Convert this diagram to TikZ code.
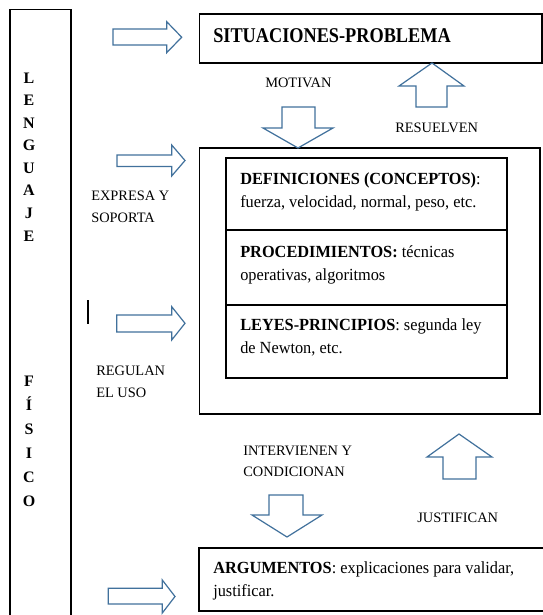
\documentclass[tikz,border=0pt]{standalone}
\usepackage{fontspec}
\setmainfont{Liberation Serif}
\newfontfamily\boxfont[FakeStretch=0.96]{Liberation Serif}
\newfontfamily\sitfont[FakeStretch=0.87]{Liberation Serif}
\definecolor{arrowblue}{HTML}{41719C}
\newcommand\twoln[3]{\vtop{\baselineskip=#1\relax\hbox{#2}\hbox{#3}}}
\newcommand\vletters[2]{\vtop{\baselineskip=#1\relax\halign{\hfil##\hfil\cr#2\crcr}}}
\tikzset{
  frame/.style={draw=black, line width=1.1pt},
  barrow/.style={draw=arrowblue, line width=0.9pt, fill=white, line join=miter},
  txt/.style={inner sep=0pt, anchor=base west, font=\boxfont\fontsize{12.75}{17.5}\selectfont},
  lbl/.style={inner sep=0pt, anchor=base west, font=\fontsize{10.8}{16.5}\selectfont},
  vert/.style={inner sep=0pt, anchor=base, font=\bfseries\fontsize{12}{16.9}\selectfont},
}
\begin{document}
\begin{tikzpicture}[x=0.75pt,y=-0.75pt]
\useasboundingbox[fill=white] (0,0) rectangle (543,615);
% left column
\draw[frame] (10,615) -- (10,9.5) -- (71,9.5) -- (71,615);
\node[vert] (leng) at (29,83.3) {\vletters{16.9pt}{L\cr E\cr N\cr G\cr U\cr A\cr J\cr E}};
\node[vert] (fis) at (29,386) {\vletters{18pt}{F\cr Í\cr S\cr I\cr C\cr O}};
\draw[line width=0.8pt] (88,300) -- (88,324);
% boxes
\draw[frame] (199.5,14) rectangle (542,63);
\draw[frame] (199.5,148) rectangle (540,414);
\draw[frame] (226,158) rectangle (507,230);
\draw[frame] (226,230) rectangle (507,305);
\draw[frame] (226,305) rectangle (507,378);
\draw[frame] (545,548) -- (199,548) -- (199,611) -- (545,611);
% box texts
\node[inner sep=0pt, anchor=base west, font=\sitfont\bfseries\fontsize{15.75}{19}\selectfont] (sit) at (213,42.3) {SITUACIONES-PROBLEMA};
\node[txt] (def) at (240,184) {\twoln{17.3pt}{\textbf{DEFINICIONES (CONCEPTOS)}:}{fuerza, velocidad, normal, peso, etc.}};
\node[txt] (proc) at (240,257) {\twoln{17.3pt}{\textbf{PROCEDIMIENTOS:} técnicas}{operativas, algoritmos}};
\node[txt] (ley) at (240,330) {\twoln{17.6pt}{\textbf{LEYES-PRINCIPIOS}: segunda ley}{de Newton, etc.}};
\node[txt] (arg) at (213,573) {\twoln{17.8pt}{\textbf{ARGUMENTOS}: explicaciones para validar,}{justificar.}};
% labels
\node[lbl] (mot) at (265,87) {MOTIVAN};
\node[lbl] (res) at (395,132) {RESUELVEN};
\node[lbl] (exp) at (91,200) {\twoln{16.5pt}{EXPRESA Y}{SOPORTA}};
\node[lbl] (reg) at (96,375) {\twoln{16.5pt}{REGULAN}{EL USO}};
\node[lbl] (int) at (243,455) {\twoln{16pt}{INTERVIENEN Y}{CONDICIONAN}};
\node[lbl] (jus) at (417,522) {JUSTIFICAN};
% right arrows
\draw[barrow] (113,29) -- (166.7,29) -- (166.7,21.7) -- (181.7,37.2) -- (166.7,52.7) -- (166.7,45) -- (113,45) -- cycle;
\draw[barrow] (117,155) -- (171.7,155) -- (171.7,145) -- (185,160.5) -- (171.7,176) -- (171.7,166.5) -- (117,166.5) -- cycle;
\draw[barrow] (116.7,315) -- (171.7,315) -- (171.7,306.7) -- (185,323.3) -- (171.7,340) -- (171.7,332) -- (116.7,332) -- cycle;
\draw[barrow] (108.3,588.3) -- (162.3,588.3) -- (162.3,580) -- (175,596.5) -- (162.3,613) -- (162.3,604) -- (108.3,604) -- cycle;
% down / up arrows
\draw[barrow] (282,107) -- (315,107) -- (315,128) -- (333,128) -- (298,148) -- (263,128) -- (282,128) -- cycle;
\draw[barrow] (416,107) -- (447,107) -- (447,86) -- (464,86) -- (432,63) -- (399,86) -- (416,86) -- cycle;
\draw[barrow] (269,495) -- (303,495) -- (303,515) -- (322,515) -- (287,537) -- (252,515) -- (269,515) -- cycle;
\draw[barrow] (443,479) -- (476,479) -- (476,457) -- (492,457) -- (459,434) -- (427,457) -- (443,457) -- cycle;
\end{tikzpicture}
\end{document}
